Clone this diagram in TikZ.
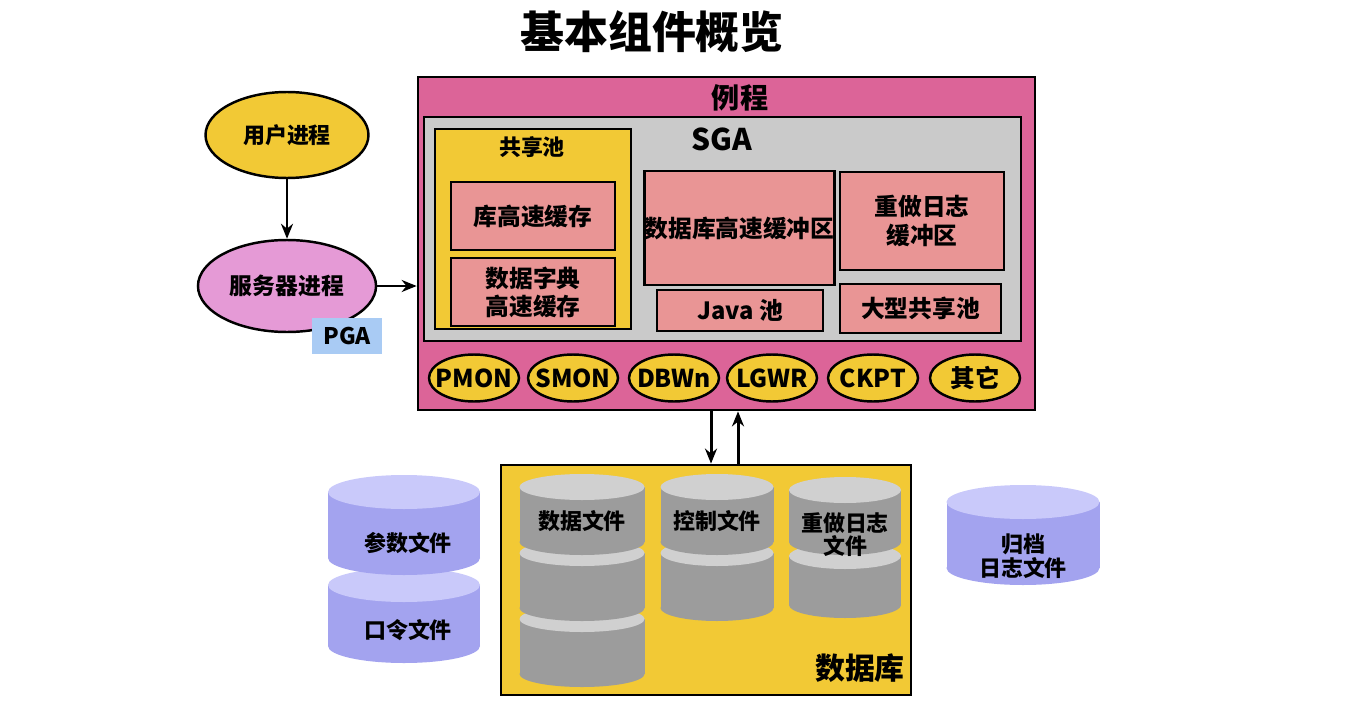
\documentclass[tikz,border=0pt]{standalone}
\usepackage{fontspec}
\setmainfont{Noto Sans CJK SC}
\usetikzlibrary{arrows.meta, positioning, calc, shapes.geometric}
\definecolor{instpink}{HTML}{DC6498}
\definecolor{poolyellow}{HTML}{F2C935}
\definecolor{sgagray}{HTML}{CACACA}
\definecolor{cachepink}{HTML}{E99595}
\definecolor{servpink}{HTML}{E59AD6}
\definecolor{pgablue}{HTML}{A9CBF4}
\definecolor{diskblue}{HTML}{A3A3EF}
\definecolor{disktopblue}{HTML}{C9C9FA}
\definecolor{diskgray}{HTML}{9C9C9C}
\definecolor{disktopgray}{HTML}{D0D0D0}
\tikzset{
  region/.style={draw=black, line width=1.6pt, inner sep=0pt},
  cachebox/.style={region, fill=cachepink, align=center, font=\fontsize{13.5}{16}\selectfont\bfseries},
  bgproc/.style={ellipse, draw=black, line width=1.4pt, fill=poolyellow, inner sep=0pt,
    minimum width=1.8cm, minimum height=0.94cm,
    label={[font=\fontsize{14}{17}\selectfont\bfseries]center:#1}},
  disk end/.style={ellipse, draw=none, inner sep=0pt},
  disklabel/.style={align=center, font=\fontsize{12.5}{14}\selectfont\bfseries},
  flow/.style={-{Stealth[length=3mm, width=2.4mm]}, line width=1.7pt, black}
}
% cylinder: centre x, cap y, width, body height, cap height, body colour, cap colour
\newcommand{\dbdisk}[7]{%
  \fill[#6] ({#1-#3/2},#2) rectangle ({#1+#3/2},{#2+#4});
  \node[disk end, fill=#6, minimum width=#3*0.02cm, minimum height=#5*0.02cm] at (#1,{#2+#4}) {};
  \node[disk end, fill=#7, minimum width=#3*0.02cm, minimum height=#5*0.02cm] at (#1,#2) {};}

\begin{document}
\begin{tikzpicture}[x=0.02cm, y=-0.02cm, font=\bfseries]
  \useasboundingbox (0,0) rectangle (1355,713);

  \node[font=\fontsize{25}{28}\selectfont\bfseries] (title) at (652,32) {基本组件概览};

  % instance
  \node[region, fill=instpink, minimum width=12.34cm, minimum height=6.66cm] (inst) at (726.5,243.5) {};
  \node[font=\fontsize{16}{18}\selectfont\bfseries] (instlbl) at (740,98) {例程};
  \node[region, fill=sgagray, minimum width=11.94cm, minimum height=4.48cm] (sga) at (722.5,229) {};
  \node[font=\fontsize{17}{19}\selectfont\bfseries] (sgalbl) at (722,139) {SGA};

  \node[region, fill=poolyellow, minimum width=3.92cm, minimum height=4.0cm] (pool) at (533,229) {};
  \node[font=\fontsize{12.5}{14}\selectfont\bfseries] (poollbl) at (532,147) {共享池};
  \node[cachebox, minimum width=3.28cm, minimum height=1.36cm] (libcache) at (533,216) {库高速缓存};
  \node[cachebox, minimum width=3.28cm, minimum height=1.36cm] (dictcache) at (533,292) {数据字典\\高速缓存};

  \node[cachebox, minimum width=3.74cm, minimum height=2.28cm] (bufcache) at (739.5,228) {数据库高速缓冲区};
  \node[cachebox, minimum width=3.28cm, minimum height=1.96cm] (redobuf) at (922,221) {重做日志\\缓冲区};
  \node[cachebox, minimum width=3.32cm, minimum height=0.82cm] (javapool) at (740,310.5) {Java 池};
  \node[cachebox, minimum width=3.22cm, minimum height=0.98cm] (largepool) at (920.5,308.5) {大型共享池};

  \foreach \nm/\txt/\px in {pmon/PMON/474, smon/SMON/573, dbwn/DBWn/674,
                            lgwr/LGWR/772, ckpt/CKPT/873, other/其它/975}
    \node[bgproc=\txt] (\nm) at (\px,378) {};

  % user side
  \node[ellipse, draw=black, line width=1.4pt, fill=poolyellow, minimum width=3.26cm,
        minimum height=1.72cm, font=\fontsize{12.5}{14}\selectfont\bfseries] (user) at (287,135) {用户进程};
  \node[ellipse, draw=black, line width=1.4pt, fill=servpink, minimum width=3.3cm,
        minimum height=1.84cm, font=\fontsize{13}{15}\selectfont\bfseries] (server) at (287,286) {服务器进程};
  \node[fill=pgablue, minimum width=1.4cm, minimum height=0.72cm,
        font=\fontsize{13}{15}\selectfont\bfseries] (pga) at (347,336) {PGA};
  \draw[flow] (user) -- (server);
  \draw[flow] (server.east) -- (server.east -| inst.west);

  % database
  \node[region, fill=poolyellow, minimum width=8.2cm, minimum height=4.6cm] (db) at (706,580) {};
  \node[font=\fontsize{17}{19}\selectfont\bfseries] (dblbl) at (860,668) {数据库};
  \draw[flow] ([xshift=-0.31cm]inst.south) -- ([xshift=-0.31cm]inst.south |- db.north);
  \draw[flow] ([xshift=0.23cm]inst.south |- db.north) -- ([xshift=0.23cm]inst.south);

  \dbdisk{582}{619}{125}{55}{26}{diskgray}{disktopgray}
  \dbdisk{582}{553}{125}{55}{26}{diskgray}{disktopgray}
  \dbdisk{582}{487}{125}{55}{26}{diskgray}{disktopgray}
  \node[disklabel] (datafile) at (582,521) {数据文件};

  \dbdisk{717}{553}{113}{55}{26}{diskgray}{disktopgray}
  \dbdisk{717}{487}{113}{55}{26}{diskgray}{disktopgray}
  \node[disklabel] (ctlfile) at (717,521) {控制文件};

  \dbdisk{845}{556}{112}{49}{26}{diskgray}{disktopgray}
  \dbdisk{845}{490}{112}{52}{26}{diskgray}{disktopgray}
  \node[disklabel, font=\fontsize{12.5}{12}\selectfont\bfseries] (redofile) at (845,535) {重做日志\\文件};

  % files outside the database
  \dbdisk{404}{585}{152}{61}{34}{diskblue}{disktopblue}
  \dbdisk{404}{492}{152}{66}{34}{diskblue}{disktopblue}
  \node[disklabel] (parfile) at (408,543) {参数文件};
  \node[disklabel] (pwdfile) at (408,630) {口令文件};

  \dbdisk{1023}{502}{153}{66}{34}{diskblue}{disktopblue}
  \node[disklabel, font=\fontsize{12.5}{13.5}\selectfont\bfseries] (archfile) at (1023,556) {归档\\日志文件};
\end{tikzpicture}
\end{document}
